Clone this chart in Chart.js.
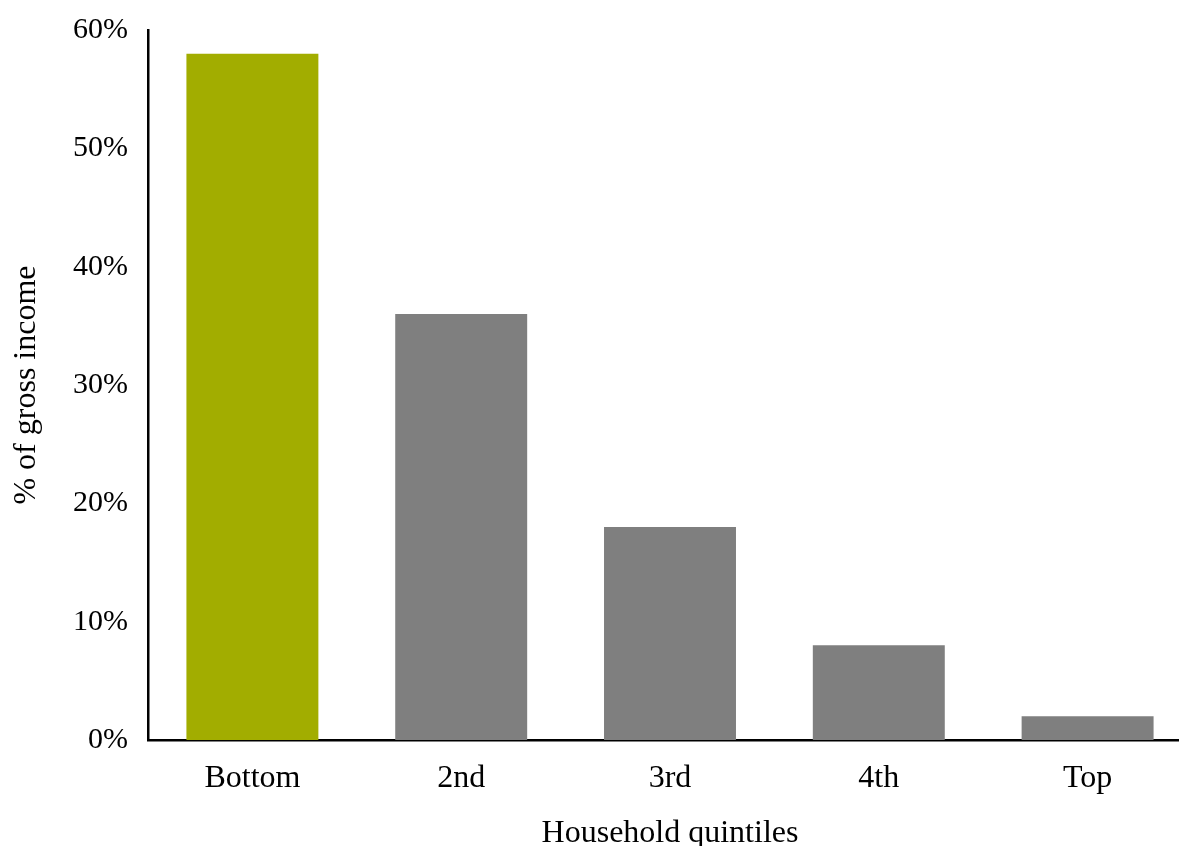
<!DOCTYPE html>
<html lang="en">
<head>
    <meta charset="UTF-8">
    <title>Household quintiles</title>
    <script src="https://cdn.jsdelivr.net/npm/chart.js"></script>
    <style>
        html, body { margin: 0; padding: 0; background: #fff; overflow: hidden; }
        #chart { display: block; }
    </style>
</head>
<body>
    <canvas id="chart" width="1192" height="846"></canvas>

    <script>
        // values (% of gross income)
        const quintiles = ['Bottom', '2nd', '3rd', '4th', 'Top'];
        const shareOfIncome = [58, 36, 18, 8, 2];
        const barColors = ['#A2AD00', '#7F7F7F', '#7F7F7F', '#7F7F7F', '#7F7F7F'];
        const yTicks = [0, 10, 20, 30, 40, 50, 60];

        const serifFamily = '"Liberation Serif", "Times New Roman", serif';
        const tickFont = { family: serifFamily, size: 30 };
        const labelFont = { family: serifFamily, size: 32 };

        const ctx = document.getElementById('chart').getContext('2d');
        new Chart(ctx, {
            type: 'bar',
            data: {
                labels: quintiles,
                datasets: [{
                    data: shareOfIncome,
                    backgroundColor: barColors,
                    borderWidth: 0,
                    categoryPercentage: 1,
                    barPercentage: 0.632
                }]
            },
            options: {
                responsive: false,
                animation: false,
                devicePixelRatio: 1,
                layout: { padding: { top: 30, right: 0, bottom: 0, left: 0 } },
                plugins: {
                    legend: { display: false },
                    tooltip: { enabled: false }
                },
                scales: {
                    x: {
                        grid: { display: false, drawTicks: false },
                        border: { display: true, color: '#000', width: 2.5 },
                        ticks: { color: '#000', font: labelFont, padding: 19, maxRotation: 0 },
                        title: {
                            display: true,
                            text: 'Household quintiles',
                            color: '#000',
                            // small line height pushes the title down so it sits at the very bottom edge
                            font: { family: serifFamily, size: 32, lineHeight: 0.75 },
                            padding: 0
                        },
                        afterFit: (scale) => {
                            scale.height = 106;
                            scale.paddingLeft = 0;
                            scale.paddingRight = 0;
                        }
                    },
                    y: {
                        min: 0,
                        max: 60,
                        grid: { display: false, drawTicks: false },
                        border: { display: true, color: '#000', width: 2.5 },
                        afterBuildTicks: (scale) => { scale.ticks = yTicks.map(v => ({ value: v })); },
                        ticks: {
                            color: '#000',
                            font: tickFont,
                            padding: 20,
                            callback: (v) => v + '%'
                        },
                        title: {
                            display: true,
                            text: '% of gross income',
                            color: '#000',
                            font: labelFont,
                            padding: { top: 7, bottom: 0 }
                        },
                        afterFit: (scale) => {
                            scale.width = 148;
                            scale.paddingTop = 0;
                            scale.paddingBottom = 0;
                        }
                    }
                }
            }
        });
    </script>
</body>
</html>
